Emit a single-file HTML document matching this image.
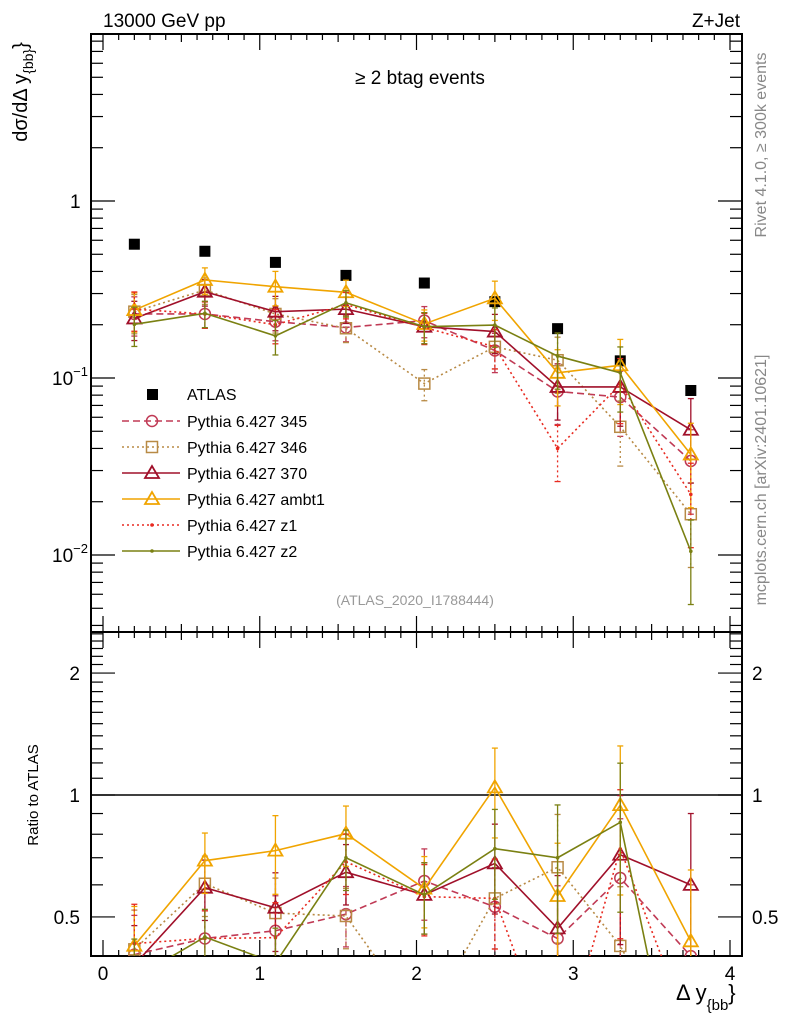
<!DOCTYPE html>
<html><head><meta charset="utf-8">
<style>
html,body{margin:0;padding:0;background:#fff;overflow:hidden;width:786px;height:1024px;}
svg{display:block;font-family:"Liberation Sans",sans-serif;}
</style></head>
<body>
<svg id="chart" width="786" height="1024" viewBox="0 0 786 1024" xmlns="http://www.w3.org/2000/svg">
<defs>
<clipPath id="clipMain"><rect x="91" y="34" width="651" height="598"/></clipPath>
<clipPath id="clipRatio"><rect x="91" y="632" width="651" height="324"/></clipPath>
</defs>
<g id="axes"></g>
<g id="mainSeries" clip-path="url(#clipMain)"></g>
<g id="ratioSeries" clip-path="url(#clipRatio)"></g>
<g id="legend"></g>
<text x="103" y="27" font-size="19">13000 GeV pp</text>
<text x="740" y="27" font-size="19" text-anchor="end">Z+Jet</text>
<text x="420" y="84" font-size="19" text-anchor="middle">≥ 2 btag events</text>
<text x="415" y="605" font-size="14" fill="#999" text-anchor="middle">(ATLAS_2020_I1788444)</text>
<text transform="translate(27,92) rotate(-90)" font-size="20" text-anchor="middle">dσ/dΔ y<tspan font-size="14" dy="6">{bb}</tspan><tspan dy="-6">}</tspan></text>
<text transform="translate(38,795) rotate(-90)" font-size="15" text-anchor="middle">Ratio to ATLAS</text>
<text transform="translate(766,145) rotate(-90)" font-size="16" fill="#888" text-anchor="middle">Rivet 4.1.0, ≥ 300k events</text>
<text transform="translate(766,480) rotate(-90)" font-size="16" fill="#888" text-anchor="middle">mcplots.cern.ch [arXiv:2401.10621]</text>
<text x="676" y="1000" font-size="22">Δ y<tspan font-size="15" dy="10">{bb</tspan><tspan font-size="22" dy="-10">}</tspan></text>
</svg>
<script>
const categories = [0.2, 0.65, 1.1, 1.55, 2.05, 2.5, 2.9, 3.3, 3.75];
const atlas = [0.57, 0.52, 0.45, 0.38, 0.344, 0.27, 0.19, 0.125, 0.085];
const p345 = [0.230, 0.230, 0.208, 0.193, 0.211, 0.143, 0.084, 0.078, 0.034];
const p346 = [0.237, 0.314, 0.230, 0.191, 0.093, 0.150, 0.126, 0.053, 0.017];
const p370 = [0.217, 0.307, 0.237, 0.245, 0.195, 0.183, 0.089, 0.089, 0.051];
const pambt1 = [0.242, 0.358, 0.328, 0.305, 0.202, 0.282, 0.107, 0.118, 0.037];
const pz1 = [0.245, 0.230, 0.200, 0.260, 0.193, 0.150, 0.040, 0.092, 0.022];
const pz2 = [0.201, 0.232, 0.173, 0.266, 0.195, 0.199, 0.133, 0.107, 0.0105];
const relErr = [0.25, 0.17, 0.22, 0.17, 0.2, 0.25, 0.35, 0.4, 0.5];
const xTicks = [0, 1, 2, 3, 4];
const ratioTicks = [0.5, 1, 2];

const NS = "http://www.w3.org/2000/svg";
const X0 = 103, XU = 156.75, L = 91, R = 742, T = 34, MB = 632, RB = 956;
const xs = v => X0 + v * XU;
const ym = v => 201 - Math.log10(v) * 177;
const yr = v => 795 - Math.log10(v) * 405;
function mk(tag, attrs, parent) { const e = document.createElementNS(NS, tag); for (const k in attrs) e.setAttribute(k, attrs[k]); parent.appendChild(e); return e; }
const axes = document.getElementById('axes');
const gm = document.getElementById('mainSeries');
const gr = document.getElementById('ratioSeries');
const lg = document.getElementById('legend');

let f1 = mk('rect', {x: L, y: T, width: R - L, height: MB - T, fill: 'none', stroke: '#000', 'stroke-width': 2}, axes);


let f2 = mk('rect', {x: L, y: MB, width: R - L, height: RB - MB, fill: 'none', stroke: '#000', 'stroke-width': 2}, axes);


let one = mk('line', {x1: L, x2: R, y1: yr(1), y2: yr(1), stroke: '#000', 'stroke-width': 1.5}, axes);



for (let i = 0; i <= 41; i++) {
  const v = i / 10, x = xs(v);
  if (x < L || x > R) continue;
  const major = i % 10 === 0, len = major ? 16 : (i % 5 === 0 ? 8 : 6);
  [[T, 1], [MB, -1], [MB, 1], [RB, -1]].forEach(([y0, d]) => mk('line', {x1: x, x2: x, y1: y0, y2: y0 + d * len, stroke: '#000', 'stroke-width': 1.2}, axes));
}
xTicks.forEach(v => {
  const t = mk('text', {x: xs(v), y: 980, 'font-size': 19, 'text-anchor': 'middle'}, axes);
  t.textContent = v;
  
  
});
for (let e = -3; e <= 0; e++) for (let m = 1; m <= 9; m++) {
  const v = m * Math.pow(10, e), y = ym(v);
  if (y < T || y > MB) continue;
  const len = m === 1 ? 24 : 12;
  mk('line', {x1: L, x2: L + len, y1: y, y2: y, stroke: '#000', 'stroke-width': 1.2}, axes);
  mk('line', {x1: R, x2: R - len, y1: y, y2: y, stroke: '#000', 'stroke-width': 1.2}, axes);
}
[[1, '1', ''], [0.1, '10', '−1'], [0.01, '10', '−2']].forEach(([v, b, s]) => {
  const t = mk('text', {x: s ? 52 : 70, y: ym(v) + 7, 'font-size': 19}, axes);
  
  
  t.textContent = b;
  if (s) { const sp = mk('tspan', {dy: -9, 'font-size': 13}, t); sp.textContent = s; }
});
for (let v = 0.4; v <= 2.5; v = Math.round((v + 0.1) * 10) / 10) {
  const y = yr(v);
  if (y < MB || y > RB) continue;
  const major = [0.5, 1, 2].includes(v), len = major ? 24 : 12;
  mk('line', {x1: L, x2: L + len, y1: y, y2: y, stroke: '#000', 'stroke-width': 1.2}, axes);
  mk('line', {x1: R, x2: R - len, y1: y, y2: y, stroke: '#000', 'stroke-width': 1.2}, axes);
}
ratioTicks.forEach(v => {
  const a = mk('text', {x: 80, y: yr(v) + 7, 'font-size': 19, 'text-anchor': 'end'}, axes);
  a.textContent = v;
  
  
  const b = mk('text', {x: 752, y: yr(v) + 7, 'font-size': 19}, axes);
  b.textContent = v;
  
  
});

categories.forEach((c, i) => {
  const r = mk('rect', {x: xs(c) - 5.5, y: ym(atlas[i]) - 5.5, width: 11, height: 11, fill: '#000'}, gm);
  
  
});

const series = [
  {name: 'pythia-345', label: 'Pythia 6.427 345', data: p345, color: '#c03a55', dash: '7,4', marker: 'circle'},
  {name: 'pythia-346', label: 'Pythia 6.427 346', data: p346, color: '#b88a45', dash: '2,3', marker: 'square'},
  {name: 'pythia-370', label: 'Pythia 6.427 370', data: p370, color: '#a0102a', dash: '', marker: 'triangle'},
  {name: 'pythia-ambt1', label: 'Pythia 6.427 ambt1', data: pambt1, color: '#f0a400', dash: '', marker: 'triangle'},
  {name: 'pythia-z1', label: 'Pythia 6.427 z1', data: pz1, color: '#e82a20', dash: '2,3', marker: 'dot'},
  {name: 'pythia-z2', label: 'Pythia 6.427 z2', data: pz2, color: '#7a8012', dash: '', marker: 'dot'}
];
function marker(g, type, x, y, color, nm) {
  let e;
  if (type === 'circle') e = mk('circle', {cx: x, cy: y, r: 5.5, fill: 'none', stroke: color, 'stroke-width': 1.5}, g);
  else if (type === 'square') e = mk('rect', {x: x - 5.5, y: y - 5.5, width: 11, height: 11, fill: 'none', stroke: color, 'stroke-width': 1.5}, g);
  else if (type === 'triangle') e = mk('polygon', {points: `${x},${y - 7} ${x - 7},${y + 5} ${x + 7},${y + 5}`, fill: 'none', stroke: color, 'stroke-width': 1.8}, g);
  else e = mk('circle', {cx: x, cy: y, r: 1.8, fill: color}, g);
  
  
}
series.forEach((s, si) => {
  [[gm, s.data, ym], [gr, s.data.map((v, i) => v / atlas[i]), yr]].forEach(([g, vals, yf]) => {
    categories.forEach((c, i) => {
      const e = relErr[i], x = xs(c);
      const y1 = yf(vals[i] * (1 + e)), y2 = yf(Math.max(vals[i] * (1 - e), 1e-4));
      const eb = mk('line', {x1: x, x2: x, y1: y1, y2: y2, stroke: s.color, 'stroke-width': 1.3, 'stroke-dasharray': s.dash}, g);
      
      
      mk('line', {x1: x - 3, x2: x + 3, y1: y1, y2: y1, stroke: s.color, 'stroke-width': 1.3}, g);
      mk('line', {x1: x - 3, x2: x + 3, y1: y2, y2: y2, stroke: s.color, 'stroke-width': 1.3}, g);
    });
    const pts = categories.map((c, i) => xs(c) + ',' + yf(vals[i])).join(' ');
    const pl = mk('polyline', {points: pts, fill: 'none', stroke: s.color, 'stroke-width': 1.6, 'stroke-dasharray': s.dash}, g);
    
    
    categories.forEach((c, i) => marker(g, s.marker, xs(c), yf(vals[i]), s.color, s.name + '-marker'));
  });
  const ly = 421 + si * 26;
  const le = mk('line', {x1: 122, x2: 180, y1: ly, y2: ly, stroke: s.color, 'stroke-width': 1.6, 'stroke-dasharray': s.dash}, lg);
  
  
  marker(lg, s.marker, 152, ly, s.color, 'legend-marker');
  const t = mk('text', {x: 187, y: ly + 6, 'font-size': 16}, lg);
  t.textContent = s.label;
  
  
});
const la = mk('rect', {x: 147, y: 389, width: 11, height: 11, fill: '#000'}, lg);


const lt = mk('text', {x: 187, y: 400, 'font-size': 16}, lg);
lt.textContent = 'ATLAS';


</script>
</body></html>
